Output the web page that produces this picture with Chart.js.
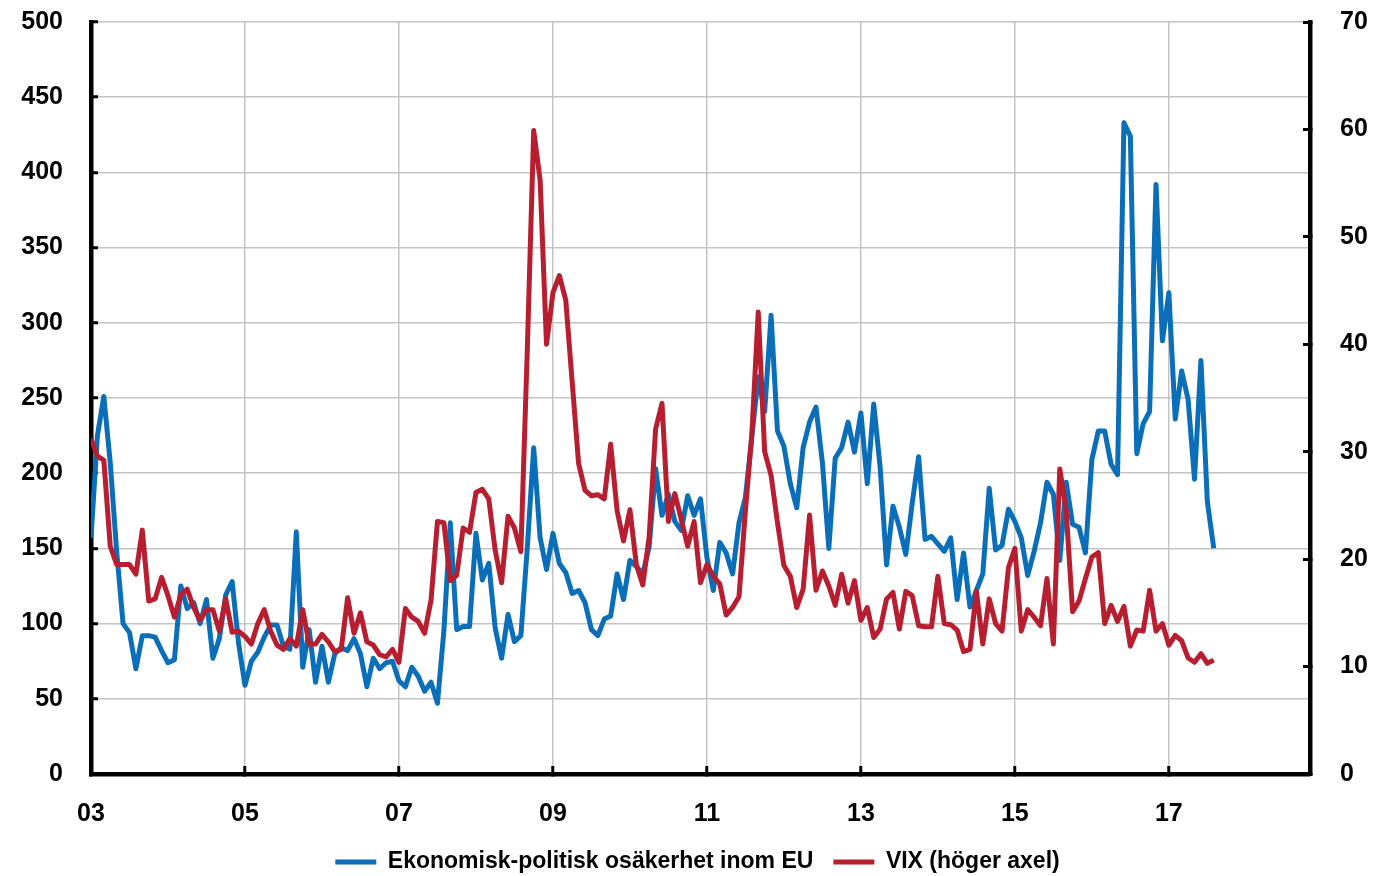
<!DOCTYPE html>
<html>
<head>
<meta charset="utf-8">
<script src="https://cdn.jsdelivr.net/npm/chart.js@4.4.1/dist/chart.umd.min.js"></script>
<style>
  html, body { margin: 0; padding: 0; background: #ffffff; }
  #wrap { width: 1379px; height: 876px; }
</style>
</head>
<body>
<div id="wrap"><canvas id="c" width="1379" height="876"></canvas></div>
<script>
// Monthly series, first value = January 2003
const startYear = 2003;
const seriesNames = ["Ekonomisk-politisk osäkerhet inom EU", "VIX (höger axel)"];

// Economic policy uncertainty, EU (left axis)
const epuEU = [
  157, 225, 251, 207, 148, 100, 94, 70, 92, 92, 91, 82,
  74, 76, 125, 110, 114, 100, 116, 77, 90, 119, 128, 87,
  59, 75, 81, 91, 99, 99, 85, 83, 161, 71, 96, 61,
  85, 61, 80, 84, 82, 90, 80, 58, 77, 70, 74, 75,
  62, 58, 71, 65, 55, 61, 47, 95, 167, 96, 98, 98,
  160, 129, 140, 97, 77, 106, 88, 92, 150, 217, 157, 136,
  160, 140, 134, 120, 122, 114, 96, 92, 103, 105, 133, 116,
  142, 138, 133, 151, 203, 172, 186, 168, 162, 185, 172, 183,
  144, 122, 154, 147, 133, 167, 184, 224, 264, 241, 305, 228,
  218, 193, 177, 217, 234, 244, 207, 150, 210, 217, 234, 214,
  240, 193, 246, 204, 139, 178, 164, 146, 180, 211, 156, 158,
  153, 148, 157, 116, 147, 111, 122, 133, 190, 149, 152, 176,
  168, 157, 132, 148, 167, 194, 186, 142, 194, 166, 164, 147,
  209, 228, 228, 206, 199, 433, 424, 213, 233, 241, 392, 288,
  320, 236, 268, 249, 196, 275, 181, 150
];

// VIX, month end (right axis)
const vix = [
  31.2, 29.6, 29.2, 21.2, 19.5, 19.5, 19.5, 18.6, 22.7, 16.1, 16.3, 18.3,
  16.6, 14.6, 16.7, 17.2, 15.5, 14.3, 15.3, 15.3, 13.3, 16.3, 13.2, 13.3,
  12.8, 12.1, 14.0, 15.3, 13.3, 12.0, 11.6, 12.6, 11.9, 15.3, 12.1, 12.1,
  13.0, 12.3, 11.4, 11.6, 16.4, 13.1, 15.0, 12.3, 12.0, 11.1, 10.9, 11.6,
  10.4, 15.4, 14.6, 14.2, 13.1, 16.2, 23.5, 23.4, 18.0, 18.5, 22.9, 22.5,
  26.2, 26.5, 25.6, 20.8, 17.8, 24.0, 22.9, 20.7, 39.4, 59.9, 55.3, 40.0,
  44.8, 46.4, 44.1, 36.5, 28.9, 26.4, 25.9, 26.0, 25.6, 30.7, 24.5, 21.7,
  24.6, 19.5, 17.6, 22.1, 32.1, 34.5, 23.5, 26.1, 23.7, 21.2, 23.5, 17.8,
  19.5, 18.4, 17.7, 14.8, 15.5, 16.5, 24.5, 31.6, 43.0, 30.0, 27.8, 23.4,
  19.4, 18.4, 15.5, 17.2, 24.1, 17.1, 18.9, 17.5, 15.7, 18.6, 15.9, 18.0,
  14.3, 15.5, 12.7, 13.5, 16.3, 16.9, 13.5, 17.0, 16.6, 13.8, 13.7, 13.7,
  18.4, 14.0, 13.9, 13.4, 11.4, 11.6, 17.0, 12.1, 16.3, 14.0, 13.3, 19.2,
  21.0, 13.3, 15.3, 14.6, 13.8, 18.2, 12.1, 28.4, 24.5, 15.1, 16.1, 18.2,
  20.2, 20.6, 14.0, 15.7, 14.2, 15.6, 11.9, 13.4, 13.3, 17.1, 13.3, 14.0,
  12.0, 12.9, 12.4, 10.8, 10.4, 11.2, 10.3, 10.6
];

// Axis ranges (months since Jan 2003 on x)
const xMaxMonths = 190;
const xTickStepMonths = 24;
const leftAxis = { min: 0, max: 500, step: 50 };
const rightAxis = { min: 0, max: 70, step: 10 };

const BLUE = '#0A6FB8';
const RED = '#B71F30';
const GRID = '#C4C4C4';
const FONT = 'Liberation Sans, Arial, sans-serif';

const toPoints = arr => arr.map((v, i) => ({ x: i, y: v }));

const tickFont = { family: FONT, weight: 'bold', size: 25 };

const noAutoPad = s => { s.paddingTop = 0; s.paddingBottom = 0; s.paddingLeft = 0; s.paddingRight = 0; };

new Chart(document.getElementById('c'), {
  type: 'line',
  data: {
    datasets: [
      {
        label: seriesNames[0],
        data: toPoints(epuEU),
        yAxisID: 'y',
        borderColor: BLUE,
        backgroundColor: BLUE,
        borderWidth: 5,
        pointRadius: 0,
        tension: 0,
        borderJoinStyle: 'round',
        order: 1
      },
      {
        label: seriesNames[1],
        data: toPoints(vix),
        yAxisID: 'y1',
        borderColor: RED,
        backgroundColor: RED,
        borderWidth: 5,
        pointRadius: 0,
        tension: 0,
        borderJoinStyle: 'round',
        order: 0
      }
    ]
  },
  options: {
    responsive: false,
    animation: false,
    devicePixelRatio: 1,
    layout: { autoPadding: false, padding: { left: 0, right: -16, top: 22, bottom: 0 } },
    plugins: {
      tooltip: { enabled: false },
      legend: {
        position: 'bottom',
        maxHeight: 45.5,
        labels: {
          font: { family: FONT, weight: 'bold', size: 23 },
          color: '#000',
          boxWidth: 41,
          boxHeight: 5,
          padding: 20,
          sort: (a, b) => a.datasetIndex - b.datasetIndex,
          generateLabels: chart => {
            const items = Chart.defaults.plugins.legend.labels.generateLabels(chart);
            items.forEach(it => { it.lineWidth = 0; it.fillStyle = it.strokeStyle; });
            return items;
          }
        }
      }
    },
    scales: {
      x: {
        type: 'linear',
        position: 'bottom',
        min: 0,
        max: xMaxMonths,
        afterFit: s => { s.height = 56.5; noAutoPad(s); },
        border: { display: true, color: '#000', width: 4.5 },
        grid: { color: GRID, lineWidth: 1.5, drawTicks: true, tickLength: -8, tickColor: '#000', tickWidth: 3 },
        ticks: {
          stepSize: xTickStepMonths,
          includeBounds: false,
          autoSkip: false,
          maxRotation: 0,
          padding: 33,
          color: '#000',
          font: tickFont,
          callback: v => String((startYear + v / 12) % 100).padStart(2, '0')
        }
      },
      y: {
        position: 'left',
        min: leftAxis.min,
        max: leftAxis.max,
        afterFit: s => { s.width = 91; noAutoPad(s); },
        border: { display: true, color: '#000', width: 4.5 },
        grid: { color: GRID, lineWidth: 1.5, drawTicks: true, tickLength: -7, tickColor: '#000', tickWidth: 3 },
        ticks: { stepSize: leftAxis.step, padding: 35, color: '#000', font: tickFont }
      },
      y1: {
        position: 'right',
        min: rightAxis.min,
        max: rightAxis.max,
        afterFit: s => { s.width = 85; noAutoPad(s); },
        border: { display: true, color: '#000', width: 4.5 },
        grid: { drawOnChartArea: false, drawTicks: true, tickLength: -7, tickColor: '#000', tickWidth: 3 },
        ticks: { stepSize: rightAxis.step, padding: 37, color: '#000', font: tickFont }
      }
    }
  }
});
</script>
</body>
</html>
